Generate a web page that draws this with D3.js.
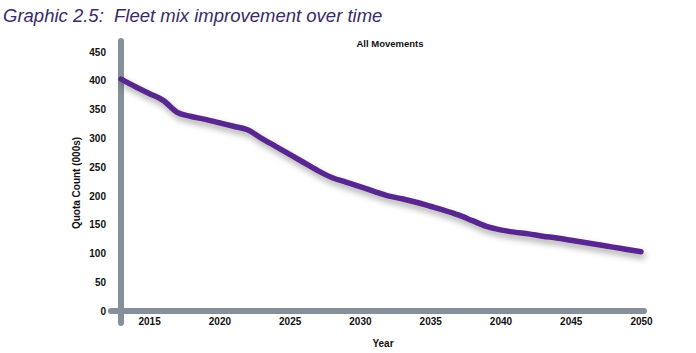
<!DOCTYPE html>
<html>
<head>
<meta charset="utf-8">
<script src="https://cdn.jsdelivr.net/npm/d3@7"></script>
<style>
  body { margin: 0; background: #fff; }
  svg text { font-family: Arial, "Liberation Sans", sans-serif; }
</style>
</head>
<body>
<div id="chart"></div>
<script>
var width = 696;
var height = 353;

// data (thousands of quota counts)
var years = [2013, 2014, 2015, 2016, 2017, 2018, 2019, 2020, 2021, 2022,
             2023, 2024, 2025, 2026, 2027, 2028, 2029, 2030, 2031, 2032,
             2033, 2034, 2035, 2036, 2037, 2038, 2039, 2040, 2041, 2042,
             2043, 2044, 2045, 2046, 2047, 2048, 2049, 2050];
var quota = [403, 390, 378, 366, 345, 338, 333, 327, 321, 315,
             300, 286, 272, 258, 244, 232, 224, 216, 208, 200,
             195, 189, 182, 175, 167, 157, 147, 141, 137, 134,
             130, 127, 123, 119, 115, 111, 107, 103];
var xTicks = [2015, 2020, 2025, 2030, 2035, 2040, 2045, 2050];
var yTicks = [0, 50, 100, 150, 200, 250, 300, 350, 400, 450];

var svg = d3.select('#chart').append('svg')
    .attr('width', width)
    .attr('height', height);

var defs = svg.append('defs');
var f = defs.append('filter').attr('id', 'shadow')
    .attr('x', '-10%').attr('y', '-20%').attr('width', '130%').attr('height', '160%');
f.append('feDropShadow')
    .attr('dx', 2).attr('dy', 4).attr('stdDeviation', 3)
    .attr('flood-color', '#000').attr('flood-opacity', 0.35);

var x = d3.scaleLinear().domain([2013, 2050]).range([121, 641]);
var y = d3.scaleLinear().domain([0, 450]).range([311, 52]);

// title
svg.append('text')
    .attr('x', 3).attr('y', 22)
    .style('font-size', '18.5px')
    .style('font-style', 'italic')
    .style('fill', '#3b2a68')
    .style('white-space', 'pre')
    .text('Graphic 2.5:  Fleet mix improvement over time');

svg.append('text')
    .attr('x', 390).attr('y', 47)
    .attr('text-anchor', 'middle')
    .style('font-size', '9.5px').style('font-weight', 'bold').style('fill', '#111')
    .text('All Movements');

// axis bars
var axisColor = '#86909a';
svg.append('line')
    .attr('x1', 111).attr('x2', 644)
    .attr('y1', y(0)).attr('y2', y(0))
    .attr('stroke', axisColor).attr('stroke-width', 6).attr('stroke-linecap', 'round');
svg.append('line')
    .attr('x1', x(2013)).attr('x2', x(2013))
    .attr('y1', 41).attr('y2', 323)
    .attr('stroke', axisColor).attr('stroke-width', 6).attr('stroke-linecap', 'round');

// y axis labels via d3 axis
var yAxis = svg.append('g')
    .attr('transform', 'translate(106,0)')
    .call(d3.axisLeft(y).tickValues(yTicks).tickSize(0).tickPadding(0));
yAxis.select('.domain').remove();
yAxis.selectAll('text')
    .style('font-size', '10px').style('font-weight', 'bold').style('fill', '#111')
    .attr('font-family', null);

var xAxis = svg.append('g')
    .attr('transform', 'translate(0,318)')
    .call(d3.axisBottom(x).tickValues(xTicks).tickFormat(d3.format('d')).tickSize(0).tickPadding(0));
xAxis.select('.domain').remove();
xAxis.selectAll('text')
    .style('font-size', '10px').style('font-weight', 'bold').style('fill', '#111')
    .attr('font-family', null);

svg.append('text')
    .attr('x', 383).attr('y', 347)
    .attr('text-anchor', 'middle')
    .style('font-size', '10px').style('font-weight', 'bold').style('fill', '#111')
    .text('Year');

svg.append('text')
    .attr('transform', 'translate(80,183) rotate(-90)')
    .attr('text-anchor', 'middle')
    .style('font-size', '10px').style('font-weight', 'bold').style('fill', '#111')
    .text('Quota Count (000s)');

// series line
var line = d3.line()
    .x(function (d, i) { return x(years[i]); })
    .y(function (d) { return y(d); })
    .curve(d3.curveMonotoneX);

svg.append('path')
    .datum(quota)
    .attr('d', line)
    .attr('fill', 'none')
    .attr('stroke', '#58268f')
    .attr('stroke-width', 5.5)
    .attr('stroke-linecap', 'round')
    .attr('stroke-linejoin', 'round')
    .attr('filter', 'url(#shadow)');
</script>
</body>
</html>
